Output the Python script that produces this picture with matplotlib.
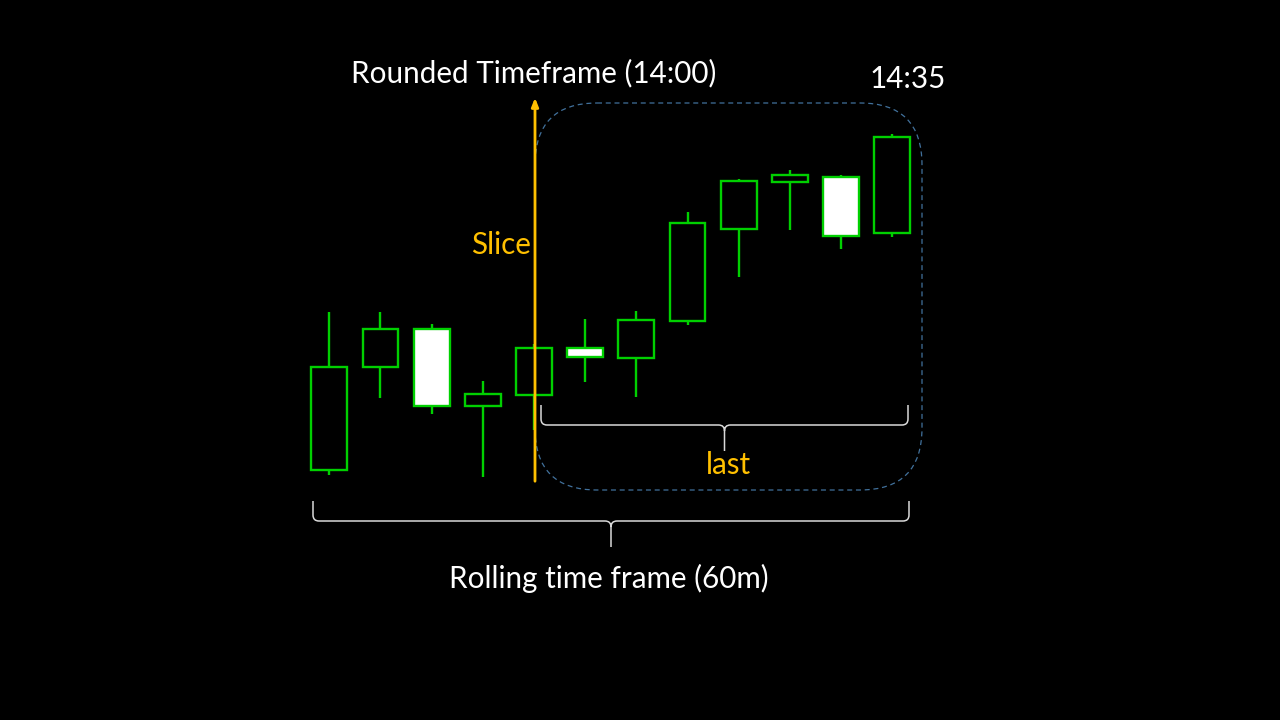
import matplotlib
matplotlib.use("Agg")
import matplotlib.pyplot as plt
from matplotlib.patches import Rectangle, FancyBboxPatch, PathPatch
from matplotlib.path import Path

plt.rcParams['font.family'] = ['Lato', 'DejaVu Sans']

# ---- data (candles) ----
opens  = [125.03, 135.27, 139.13, 131.40, 132.53, 137.20, 136.23, 139.93, 149.07, 153.83, 154.33, 148.73]
closes = [135.30, 139.13, 131.43, 132.57, 137.20, 136.27, 139.97, 149.70, 153.90, 154.50, 148.40, 158.33]
highs  = [140.77, 140.77, 139.63, 133.90, 137.57, 140.13, 140.93, 150.83, 154.07, 155.03, 154.53, 158.57]
lows   = [124.53, 132.20, 130.60, 124.33, 129.00, 133.80, 132.30, 139.53, 144.33, 149.00, 147.07, 148.33]

title_text = "Rounded Timeframe (14:00)"
time_text = "14:35"
slice_text = "Slice"
last_text = "last"
rolling_text = "Rolling time frame (60m)"

GREEN = '#00D000'
GOLD = '#FFC000'
BLUE = '#41719C'
BRACE = '#D9D9D9'

fig = plt.figure(figsize=(12.8, 7.2), dpi=100, facecolor='black')

# candle axes (data coordinates)
ax = fig.add_axes([0, 0, 1, 1])
ax.set_facecolor('black')
step_px = 51.18
x0_px = 329.3
ax.set_xlim(-x0_px / step_px, (1280 - x0_px) / step_px)
ax.set_ylim(100, 172)
ax.axis('off')

w = 0.70
for i, (o, c, h, l) in enumerate(zip(opens, closes, highs, lows)):
    ax.vlines(i, l, h, color=GREEN, lw=1.7, zorder=2)
    bottom, top = min(o, c), max(o, c)
    face = 'black' if c >= o else 'white'
    ax.add_patch(Rectangle((i - w / 2, bottom), w, top - bottom,
                           facecolor=face, edgecolor=GREEN, lw=1.7, zorder=3))

# overlay axes in pixel coordinates for annotations
ov = fig.add_axes([0, 0, 1, 1], facecolor='none')
ov.set_xlim(0, 1280)
ov.set_ylim(720, 0)
ov.axis('off')

# dashed rounded rectangle
ov.add_patch(FancyBboxPatch((535, 103), 387, 387,
                            boxstyle='round,pad=0,rounding_size=62',
                            fill=False, edgecolor=BLUE, lw=0.9,
                            linestyle=(0, (4, 3)), zorder=1))

# slice arrow
ov.annotate('', xy=(535, 95), xytext=(535, 484),
            arrowprops=dict(arrowstyle='-|>,head_length=0.5,head_width=0.2',
                            color=GOLD, lw=2), zorder=5)


def brace(x1, x2, ytop, yline, ytip, r=6):
    xm = (x1 + x2) / 2
    verts = [(x1, ytop), (x1, yline - r), (x1, yline), (x1 + r, yline),
             (xm - r, yline), (xm, yline), (xm, yline + r), (xm, ytip)]
    codes = [Path.MOVETO, Path.LINETO, Path.CURVE3, Path.CURVE3,
             Path.LINETO, Path.CURVE3, Path.CURVE3, Path.LINETO]
    verts2 = [(x2, ytop), (x2, yline - r), (x2, yline), (x2 - r, yline),
              (xm + r, yline), (xm, yline), (xm, yline + r)]
    codes2 = [Path.MOVETO, Path.LINETO, Path.CURVE3, Path.CURVE3,
              Path.LINETO, Path.CURVE3, Path.CURVE3]
    p = Path(verts + verts2, codes + codes2)
    ov.add_patch(PathPatch(p, fill=False, edgecolor=BRACE, lw=1.1, zorder=4))


brace(541, 908, 405, 425, 451)
brace(313, 909, 501, 521, 547)

fs = 21.3
ov.text(534, 73, title_text, color='white', fontsize=fs, ha='center', va='center')
ov.text(908, 79, time_text, color='white', fontsize=fs, ha='center', va='center')
ov.text(501, 245, slice_text, color=GOLD, fontsize=fs, ha='center', va='center')
ov.text(728, 465, last_text, color=GOLD, fontsize=fs, ha='center', va='center')
ov.text(609, 578, rolling_text, color='white', fontsize=fs, ha='center', va='center')

fig.savefig('out.png', dpi=100, facecolor='black')
